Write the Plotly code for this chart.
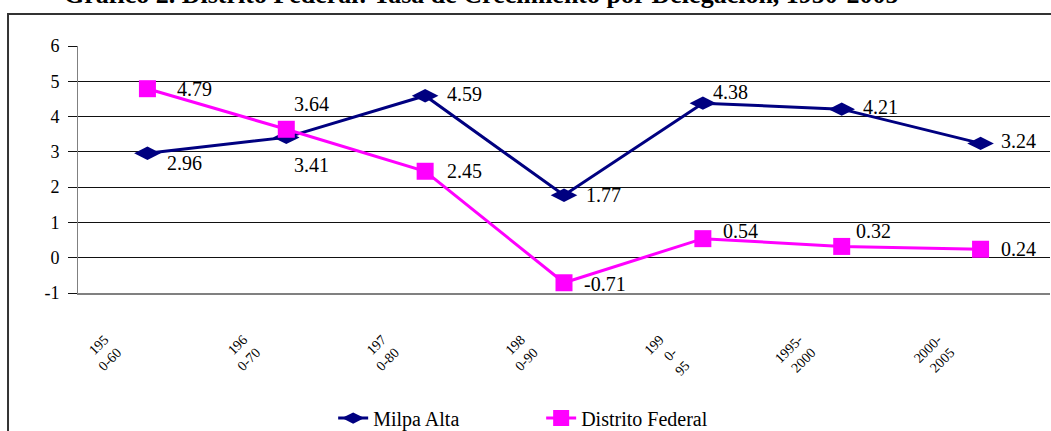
import plotly.graph_objects as go

# ---- data ----
periods = ["195<br>0-60", "196<br>0-70", "197<br>0-80", "198<br>0-90",
           "199<br>0-<br>95", "1995-<br>2000", "2000-<br>2005"]
milpa_alta = [2.96, 3.41, 4.59, 1.77, 4.38, 4.21, 3.24]
distrito_federal = [4.79, 3.64, 2.45, -0.71, 0.54, 0.32, 0.24]
y_ticks = [-1, 0, 1, 2, 3, 4, 5, 6]
title_text = "Gráfico 2. Distrito Federal: Tasa de Crecimiento por Delegación, 1950-2005"

# ---- styles ----
FONT = "Liberation Serif"
NAVY = "#000080"
MAGENTA = "#FF00FF"

# label offsets in px (left-edge x shift, y shift up)
milpa_off = [(18, -10), (6, -28), (20, 2), (20, 0), (8, 11), (19, 2), (18, 2)]
df_off = [(28, 0), (6, 25), (20, 0), (18, -1), (18, 8), (12, 15), (18, 0)]

fig = go.Figure()
fig.add_trace(go.Scatter(
    x=periods, y=milpa_alta, name="Milpa Alta", mode="lines+markers",
    line=dict(color=NAVY, width=3),
    marker=dict(symbol="diamond-wide", size=19, color=NAVY),
))
fig.add_trace(go.Scatter(
    x=periods, y=distrito_federal, name="Distrito Federal", mode="lines+markers",
    line=dict(color=MAGENTA, width=3),
    marker=dict(symbol="square", size=17, color=MAGENTA),
))

annotations = []
for vals, offs in ((milpa_alta, milpa_off), (distrito_federal, df_off)):
    for cat, v, (dx, dy) in zip(periods, vals, offs):
        annotations.append(dict(
            x=cat, y=v, xref="x", yref="y", text=f"{v:.2f}", showarrow=False,
            xanchor="left", yanchor="middle", xshift=dx, yshift=dy,
            font=dict(family=FONT, size=20, color="black"),
        ))

annotations.append(dict(
    x=0.415, y=1.14, xref="paper", yref="paper", text="<b>" + title_text + "</b>",
    showarrow=False, xanchor="center", yanchor="bottom",
    font=dict(family=FONT, size=26, color="black"),
))

fig.update_layout(
    width=1051, height=431,
    margin=dict(l=78, r=1, t=46, b=138, autoexpand=False),
    paper_bgcolor="white", plot_bgcolor="white",
    annotations=annotations,
    showlegend=True,
    legend=dict(orientation="h", x=0.4765, xanchor="center",
                y=0.03, yref="container", yanchor="middle",
                entrywidth=163,
                font=dict(family=FONT, size=20, color="black"),
                bgcolor="rgba(0,0,0,0)"),
    shapes=[dict(type="rect", xref="paper", yref="paper",
                 x0=-0.072, x1=1.2, y0=-0.8, y1=1.13,
                 line=dict(color="#333333", width=2), fillcolor="rgba(0,0,0,0)",
                 layer="below")],
)

fig.update_xaxes(
    type="category", range=[-0.5, 6.5], automargin=False,
    showgrid=False, zeroline=False,
    showline=True, linecolor="#808080", linewidth=2,
    ticks="", tickangle=-45,
    tickfont=dict(family=FONT, size=14, color="black"),
    ticklabelshift=-43, ticklabelstandoff=31,
)
fig.update_yaxes(
    range=[-1, 6], tickvals=y_ticks, ticktext=[str(t) for t in y_ticks],
    automargin=False,
    showgrid=True, gridcolor="#111111", gridwidth=1, zeroline=False,
    showline=True, linecolor="#808080", linewidth=1,
    ticks="outside", ticklen=9, tickcolor="#111111",
    tickfont=dict(family=FONT, size=18, color="black"),
    ticklabelstandoff=5,
)

fig.write_html("out.html", config={"displayModeBar": False},
               post_script="document.body.style.margin='0';")
